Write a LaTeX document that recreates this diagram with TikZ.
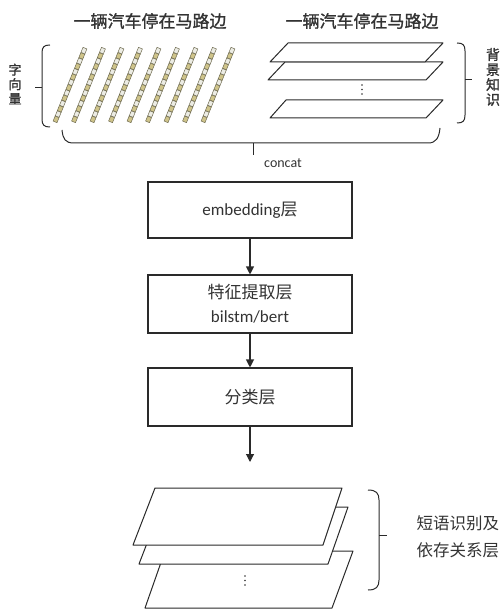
\documentclass[tikz,border=0pt]{standalone}
\usepackage{fontspec}
\setmainfont{Carlito}
\newfontfamily\cjk{Noto Sans CJK SC}
\newfontfamily\cjkb[FakeBold=1.2]{Noto Sans CJK SC}
\usetikzlibrary{arrows.meta}
\definecolor{ink}{HTML}{2A2A2A}
\definecolor{txt}{HTML}{333333}
\definecolor{khaki}{HTML}{CFC48A}
\definecolor{pale}{HTML}{ECECE4}
\definecolor{celledge}{HTML}{6E6A50}
\tikzset{
  layerbox/.style={draw=ink, line width=1.1pt, fill=white, minimum width=204pt, minimum height=56pt, align=center, text=txt, font=\fontsize{17}{24}\selectfont},
  flow/.style={draw=ink, line width=1.1pt, -{Triangle[length=8pt,width=8pt]}},
  bracepath/.style={draw=ink, line width=1pt},
  plane/.style={draw=ink, line width=1pt, fill=white, line join=round},
  cell/.style={draw=celledge, line width=0.5pt, minimum width=5.4pt, minimum height=4.2pt, inner sep=0pt, rotate=67.9},
  titletext/.style={text=txt, font=\cjkb\fontsize{17}{20}\selectfont},
  sidetext/.style={text=txt, align=center, font=\cjkb\fontsize{13}{14.5}\selectfont},
  dot/.style={fill=txt, circle, inner sep=0pt, minimum size=1.6pt},
}
\begin{document}
\begin{tikzpicture}[x=1pt,y=-1pt]
\path[use as bounding box] (0,0) rectangle (501,609);

% titles
\node[titletext] (t1) at (150,21) {一辆汽车停在马路边};
\node[titletext] (t2) at (362,21) {一辆汽车停在马路边};

% word-vector sticks
\foreach \i in {0,...,8}{
  \foreach \k in {0,...,13}{
    \pgfmathsetmacro\cx{55+18.5*\i+30*(\k+0.5)/14}
    \pgfmathsetmacro\cy{122-74*(\k+0.5)/14}
    \pgfmathtruncatemacro\parity{mod(\k,2)}
    \ifnum\parity=0
      \node[cell, fill=khaki] at (\cx,\cy) {};
    \else
      \node[cell, fill=pale] at (\cx,\cy) {};
    \fi
  }
}

% left brace
\draw[bracepath] (50,45) .. controls (44,45) and (42,47) .. (42,53) -- (42,119) .. controls (42,125) and (44,127) .. (50,127);
\draw[bracepath] (42,88) -- (35,88);
\node[sidetext] (lv) at (15,84) {字\\向\\量};

% top-right planes
\draw[plane] (286,100) -- (443,100) -- (426,118) -- (270,118) -- cycle;
\node[dot] (d1a) at (362,85) {};
\node[dot] (d1b) at (362,89.5) {};
\node[dot] (d1c) at (362,94) {};
\draw[plane] (285,62) -- (443,62) -- (426,80) -- (268,80) -- cycle;
\draw[plane] (288,43) -- (443,43) -- (425,62) -- (270,62) -- cycle;

% right brace (top)
\draw[bracepath] (457,43) .. controls (463,43) and (465,45) .. (465,51) -- (465,115) .. controls (465,121) and (463,123) .. (457,123);
\draw[bracepath] (465,80) -- (472,80);
\node[sidetext, font=\cjkb\fontsize{14}{15}\selectfont] (rv) at (493,77) {背\\景\\知\\识};

% bottom brace + concat
\draw[bracepath] (62,130) .. controls (63,139) and (65,143) .. (74,143) -- (428,143) .. controls (436,143) and (439,138) .. (440,128);
\draw[bracepath] (253,143) -- (253,155);
\node[text=txt, font=\fontsize{14}{14}\selectfont] (concat) at (283,163) {concat};

% layer boxes
\node[layerbox] (emb) at (250,210) {embedding{\cjk 层}};
\node[layerbox, minimum height=58pt] (feat) at (250,304) {{\cjk 特征提取层}\\bilstm/bert};
\node[layerbox, minimum height=58pt] (cls) at (250,397) {\cjk 分类层};
\coordinate (out) at (250,462);
\draw[flow] (emb) -- (feat);
\draw[flow] (feat) -- (cls);
\draw[flow] (cls.south) -- (out);

% bottom planes
\draw[plane] (165,551) -- (353,551) -- (332,608) -- (145,608) -- cycle;
\node[dot] (d2a) at (245,576) {};
\node[dot] (d2b) at (245,580.5) {};
\node[dot] (d2c) at (245,585) {};
\draw[plane] (161,507) -- (348,507) -- (328,564) -- (139,564) -- cycle;
\draw[plane] (155,488) -- (342,488) -- (323,545) -- (133,545) -- cycle;

% bottom right brace
\draw[bracepath] (368,490) .. controls (376,490) and (379,493) .. (379,500) -- (379,580) .. controls (379,587) and (376,590) .. (368,590);
\draw[bracepath] (379,535) -- (387,535);
\node[text=txt, anchor=west, align=left, font=\cjk\fontsize{16.5}{27}\selectfont] (lbl) at (413,537) {短语识别及\\依存关系层};
\end{tikzpicture}
\end{document}
